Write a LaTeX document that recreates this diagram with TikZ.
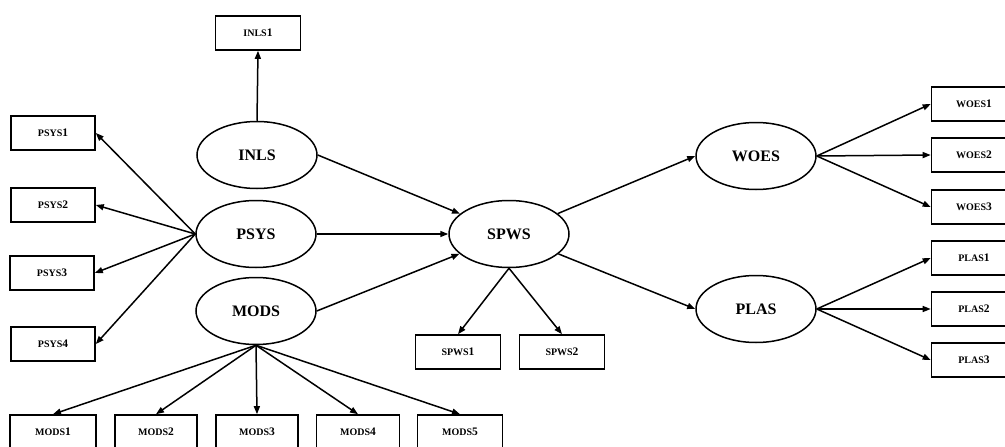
\documentclass[tikz,border=0pt]{standalone}
\usepackage{fontspec}
\setmainfont{Liberation Serif}
\usetikzlibrary{shapes.geometric,arrows.meta}

% indicator label: capitals set a little smaller than the digit
\newcommand{\ind}[2]{{\fontsize{10}{11}\selectfont #1}{\fontsize{11.5}{12}\selectfont #2}}

\tikzset{
  latent/.style={draw, line width=1.5pt, ellipse, minimum width=120pt, minimum height=67pt,
                 inner sep=0pt, font=\bfseries\fontsize{16}{17}\selectfont},
  indbox/.style={draw, line width=1.6pt, rectangle, minimum width=85pt, minimum height=34pt,
                 inner sep=0pt, font=\bfseries},
  link/.style={line width=1.5pt, -{Triangle[length=8pt,width=6pt]}}
}

\begin{document}
\begin{tikzpicture}[x=1pt,y=-1pt]
\useasboundingbox (0,0) rectangle (1005,447);
\clip (0,0) rectangle (1005,447);
\fill[white] (0,0) rectangle (1005,447);

% latent constructs
\node[latent] (INLS) at (257,155) {INLS};
\node[latent] (PSYS) at (256,234) {PSYS};
\node[latent] (MODS) at (256,311) {MODS};
\node[latent] (SPWS) at (509,234) {SPWS};
\node[latent] (WOES) at (756,156) {WOES};
\node[latent] (PLAS) at (756,309) {PLAS};

% indicators
\node[indbox] (INLS1) at (258,33) {\ind{INLS}{1}};

\node[indbox, minimum width=84pt] (PSYS1) at (53,133) {\ind{PSYS}{1}};
\node[indbox, minimum width=84pt] (PSYS2) at (53,205) {\ind{PSYS}{2}};
\node[indbox, minimum width=84pt] (PSYS3) at (52,273) {\ind{PSYS}{3}};
\node[indbox, minimum width=84pt] (PSYS4) at (53,344) {\ind{PSYS}{4}};

\node[indbox, minimum width=86pt] (MODS1) at (53,432) {\ind{MODS}{1}};
\node[indbox, minimum width=82pt] (MODS2) at (156,432) {\ind{MODS}{2}};
\node[indbox, minimum width=82pt] (MODS3) at (257,432) {\ind{MODS}{3}};
\node[indbox, minimum width=83pt] (MODS4) at (358,432) {\ind{MODS}{4}};
\node[indbox] (MODS5) at (460,432) {\ind{MODS}{5}};

\node[indbox] (SPWS1) at (458,352) {\ind{SPWS}{1}};
\node[indbox] (SPWS2) at (562,352) {\ind{SPWS}{2}};

\node[indbox] (WOES1) at (974,104) {\ind{WOES}{1}};
\node[indbox] (WOES2) at (974,155) {\ind{WOES}{2}};
\node[indbox] (WOES3) at (974,207) {\ind{WOES}{3}};

\node[indbox] (PLAS1) at (974,258) {\ind{PLAS}{1}};
\node[indbox] (PLAS2) at (974,309) {\ind{PLAS}{2}};
\node[indbox] (PLAS3) at (974,360) {\ind{PLAS}{3}};

% loadings
\draw[link] (INLS.north) -- (INLS1.south);
\foreach \i in {1,...,4} \draw[link] (PSYS.west) -- (PSYS\i.east);
\foreach \i in {1,...,5} \draw[link] (MODS.south) -- (MODS\i.north);
\foreach \i in {1,2} \draw[link] (SPWS.south) -- (SPWS\i.north);
\foreach \i in {1,2,3} \draw[link] (WOES.east) -- (WOES\i.west);
\foreach \i in {1,2,3} \draw[link] (PLAS.east) -- (PLAS\i.west);

% structural paths
\draw[link] (INLS.east) -- (SPWS);
\draw[link] (PSYS.east) -- (SPWS.west);
\draw[link] (MODS.east) -- (SPWS);
\draw[link] (SPWS) -- (WOES.west);
\draw[link] (SPWS) -- (PLAS.west);
\end{tikzpicture}
\end{document}
